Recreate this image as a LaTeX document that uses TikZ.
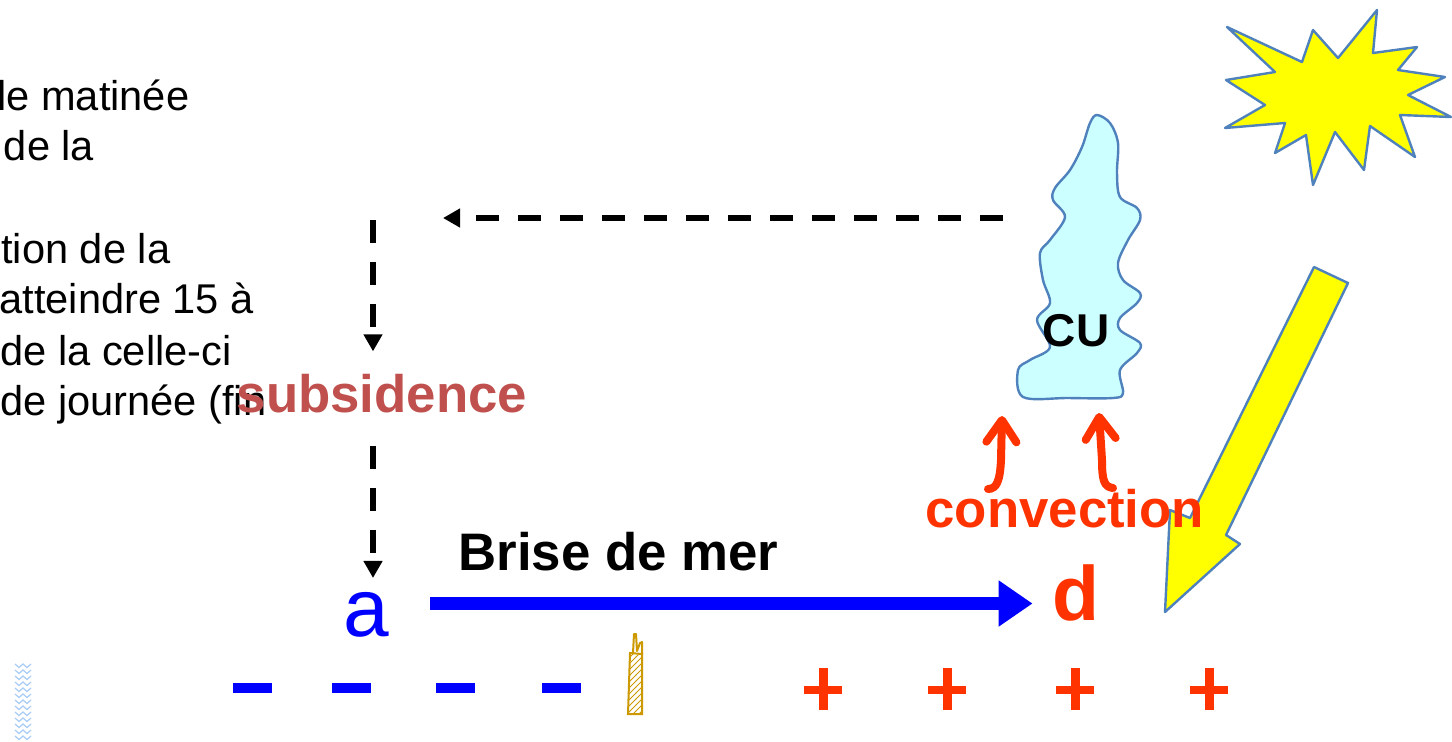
\documentclass[tikz,border=0pt]{standalone}
\usepackage{fontspec}
\setmainfont{Liberation Sans}
\usepackage{tikz}
\usetikzlibrary{arrows.meta, positioning, patterns}
\definecolor{breezeblue}{HTML}{0000FF}
\definecolor{heatred}{HTML}{FF3300}
\definecolor{sinkred}{HTML}{C0504D}
\definecolor{cloudcyan}{HTML}{CCFFFF}
\definecolor{edgeblue}{HTML}{4F81BD}
\definecolor{sunyellow}{HTML}{FFFF00}
\definecolor{towergold}{HTML}{CC9900}
\definecolor{seablue}{HTML}{A8CCF5}

\begin{document}
\begin{tikzpicture}[x=0.5pt, y=-0.5pt,
  bodytext/.style={font=\fontsize{20.8}{25.5}\selectfont, anchor=base west, inner sep=0},
  bigbold/.style={font=\fontsize{26.4}{30}\selectfont\bfseries, inner sep=0},
  dashflow/.style={black, line width=3pt, dash pattern=on 11.5pt off 9.5pt,
    -{Triangle[length=8.5pt, width=9pt]}},
  breeze/.style={breezeblue, line width=6.5pt, -{Triangle[length=17pt, width=22pt]}},
  updraft/.style={heatred, line width=4pt, line cap=round,
    -{Straight Barb[length=11pt, width=15pt, line cap=round, line join=round]}},
  outlined/.style={draw=edgeblue, line width=1.2pt, line join=round}]
\useasboundingbox (0,0) rectangle (1452,741);

% ---- notes on the left (run off the page edge)
\foreach \i/\dx/\yy/\txt in {1/-3/110/le matinée, 2/3.5/160/de la,
    3/1/263/tion de la, 4/-1/313/atteindre 15 à, 5/0/365/de la celle-ci,
    6/0/415/de journée (fin}
  \node[bodytext] (note\i) at (\dx,\yy) {\txt};

% ---- sea surface
\foreach \yy in {664,670,...,736}
  \draw[seablue, line width=0.6pt] (15,\yy) -- (19,\yy+3.5) -- (23,\yy) -- (27,\yy+3.5) -- (31,\yy);

% ---- sun and its ray
\filldraw[fill=sunyellow, outlined] (1227,27) -- (1302,62) -- (1313,30) -- (1338,58)
  -- (1377,10) -- (1373,53) -- (1417,47) -- (1398,70) -- (1445,77) -- (1408,95)
  -- (1451,117) -- (1400,115) -- (1415,157) -- (1370,126) -- (1364,170) -- (1335,132)
  -- (1313,185) -- (1306,135) -- (1275,153) -- (1285,123) -- (1225,128) -- (1265,105)
  -- (1226,80) -- (1275,72) -- cycle;
\filldraw[fill=sunyellow, outlined] (1314,267) -- (1348,283) -- (1226,535) -- (1240,544)
  -- (1165,612) -- (1170,510) -- (1190,518) -- cycle;

% ---- cumulus
\filldraw[fill=cloudcyan, outlined] plot[smooth cycle, tension=0.55] coordinates {
  (1097,115) (1110,123) (1118,143) (1117,173) (1120,197) (1137,208) (1140,220)
  (1128,240) (1118,263) (1123,280) (1140,293) (1137,303) (1120,318) (1120,330)
  (1140,343) (1137,353) (1120,370) (1123,393) (1113,398) (1068,398) (1023,397)
  (1018,370) (1030,360) (1050,347) (1037,320) (1050,303) (1043,280) (1040,253)
  (1050,240) (1065,217) (1053,200) (1055,188) (1070,170) (1082,147) (1090,123)};
\node[font=\fontsize{23}{26}\selectfont\bfseries, inner sep=0] (cu) at (1076,331) {CU};

% ---- convection under the cloud
\node[bigbold, text=heatred, anchor=base west] (conv) at (925,527) {convection};
\draw[updraft] (988,489) .. controls (997,489) and (1000,480) .. (1001,460) -- (1002,416);
\draw[updraft] (1113,488) .. controls (1104,487) and (1102,480) .. (1102,460) -- (1099,413);

% ---- return flow aloft and subsidence
\node[bigbold, text=sinkred, inner sep=2pt, anchor=base] (subs) at (382,412) {subsidence};
\coordinate (outflow) at (1003,218);
\coordinate (aloft) at (443,218);
\coordinate (turn) at (373,220);
\draw[dashflow] (outflow) -- (aloft);
\draw[dashflow, shorten >=9pt] (turn) -- (turn |- subs.north);

% ---- pressure centres and sea breeze
\node[font=\fontsize{41}{45}\selectfont, text=breezeblue, inner sep=0, anchor=base] (a) at (366,636) {a};
\node[font=\fontsize{38.5}{42}\selectfont\bfseries, text=heatred, inner sep=0, anchor=base] (d) at (1076,620) {d};
\draw[dashflow, shorten <=14.5pt, shorten >=6.75pt] (subs.south -| turn) -- (a.north -| turn);
\node[bigbold, anchor=base west] (brise) at (458,570) {Brise de mer};
\coordinate (breezelevel) at (0,603.5);
\draw[breeze, shorten <=20.5pt, shorten >=9.75pt] (a.east |- breezelevel) -- (d.west |- breezelevel);

% ---- ground: sea side (-) and land side (+)
\foreach \x in {252.5, 351, 455, 561}
  \fill[breezeblue] (\x-19.5,683) rectangle (\x+19.5,693);
\foreach \x in {823, 947, 1075, 1209} {
  \fill[heatred] (\x-19,685.5) rectangle (\x+19,694);
  \fill[heatred] (\x-4.5,668) rectangle (\x+4.5,710);
}

% ---- tower on the coast
\draw[towergold, line width=1pt, pattern=north east lines, pattern color=towergold]
  (628,714) -- (642,714) -- (642,654) -- (630,653) -- cycle;
\draw[towergold, line width=1pt, line join=round]
  (633,653) -- (634,634) -- (636,634) -- (637,651) -- (640,643) -- (642,642) -- (642,654);

\end{tikzpicture}
\end{document}
